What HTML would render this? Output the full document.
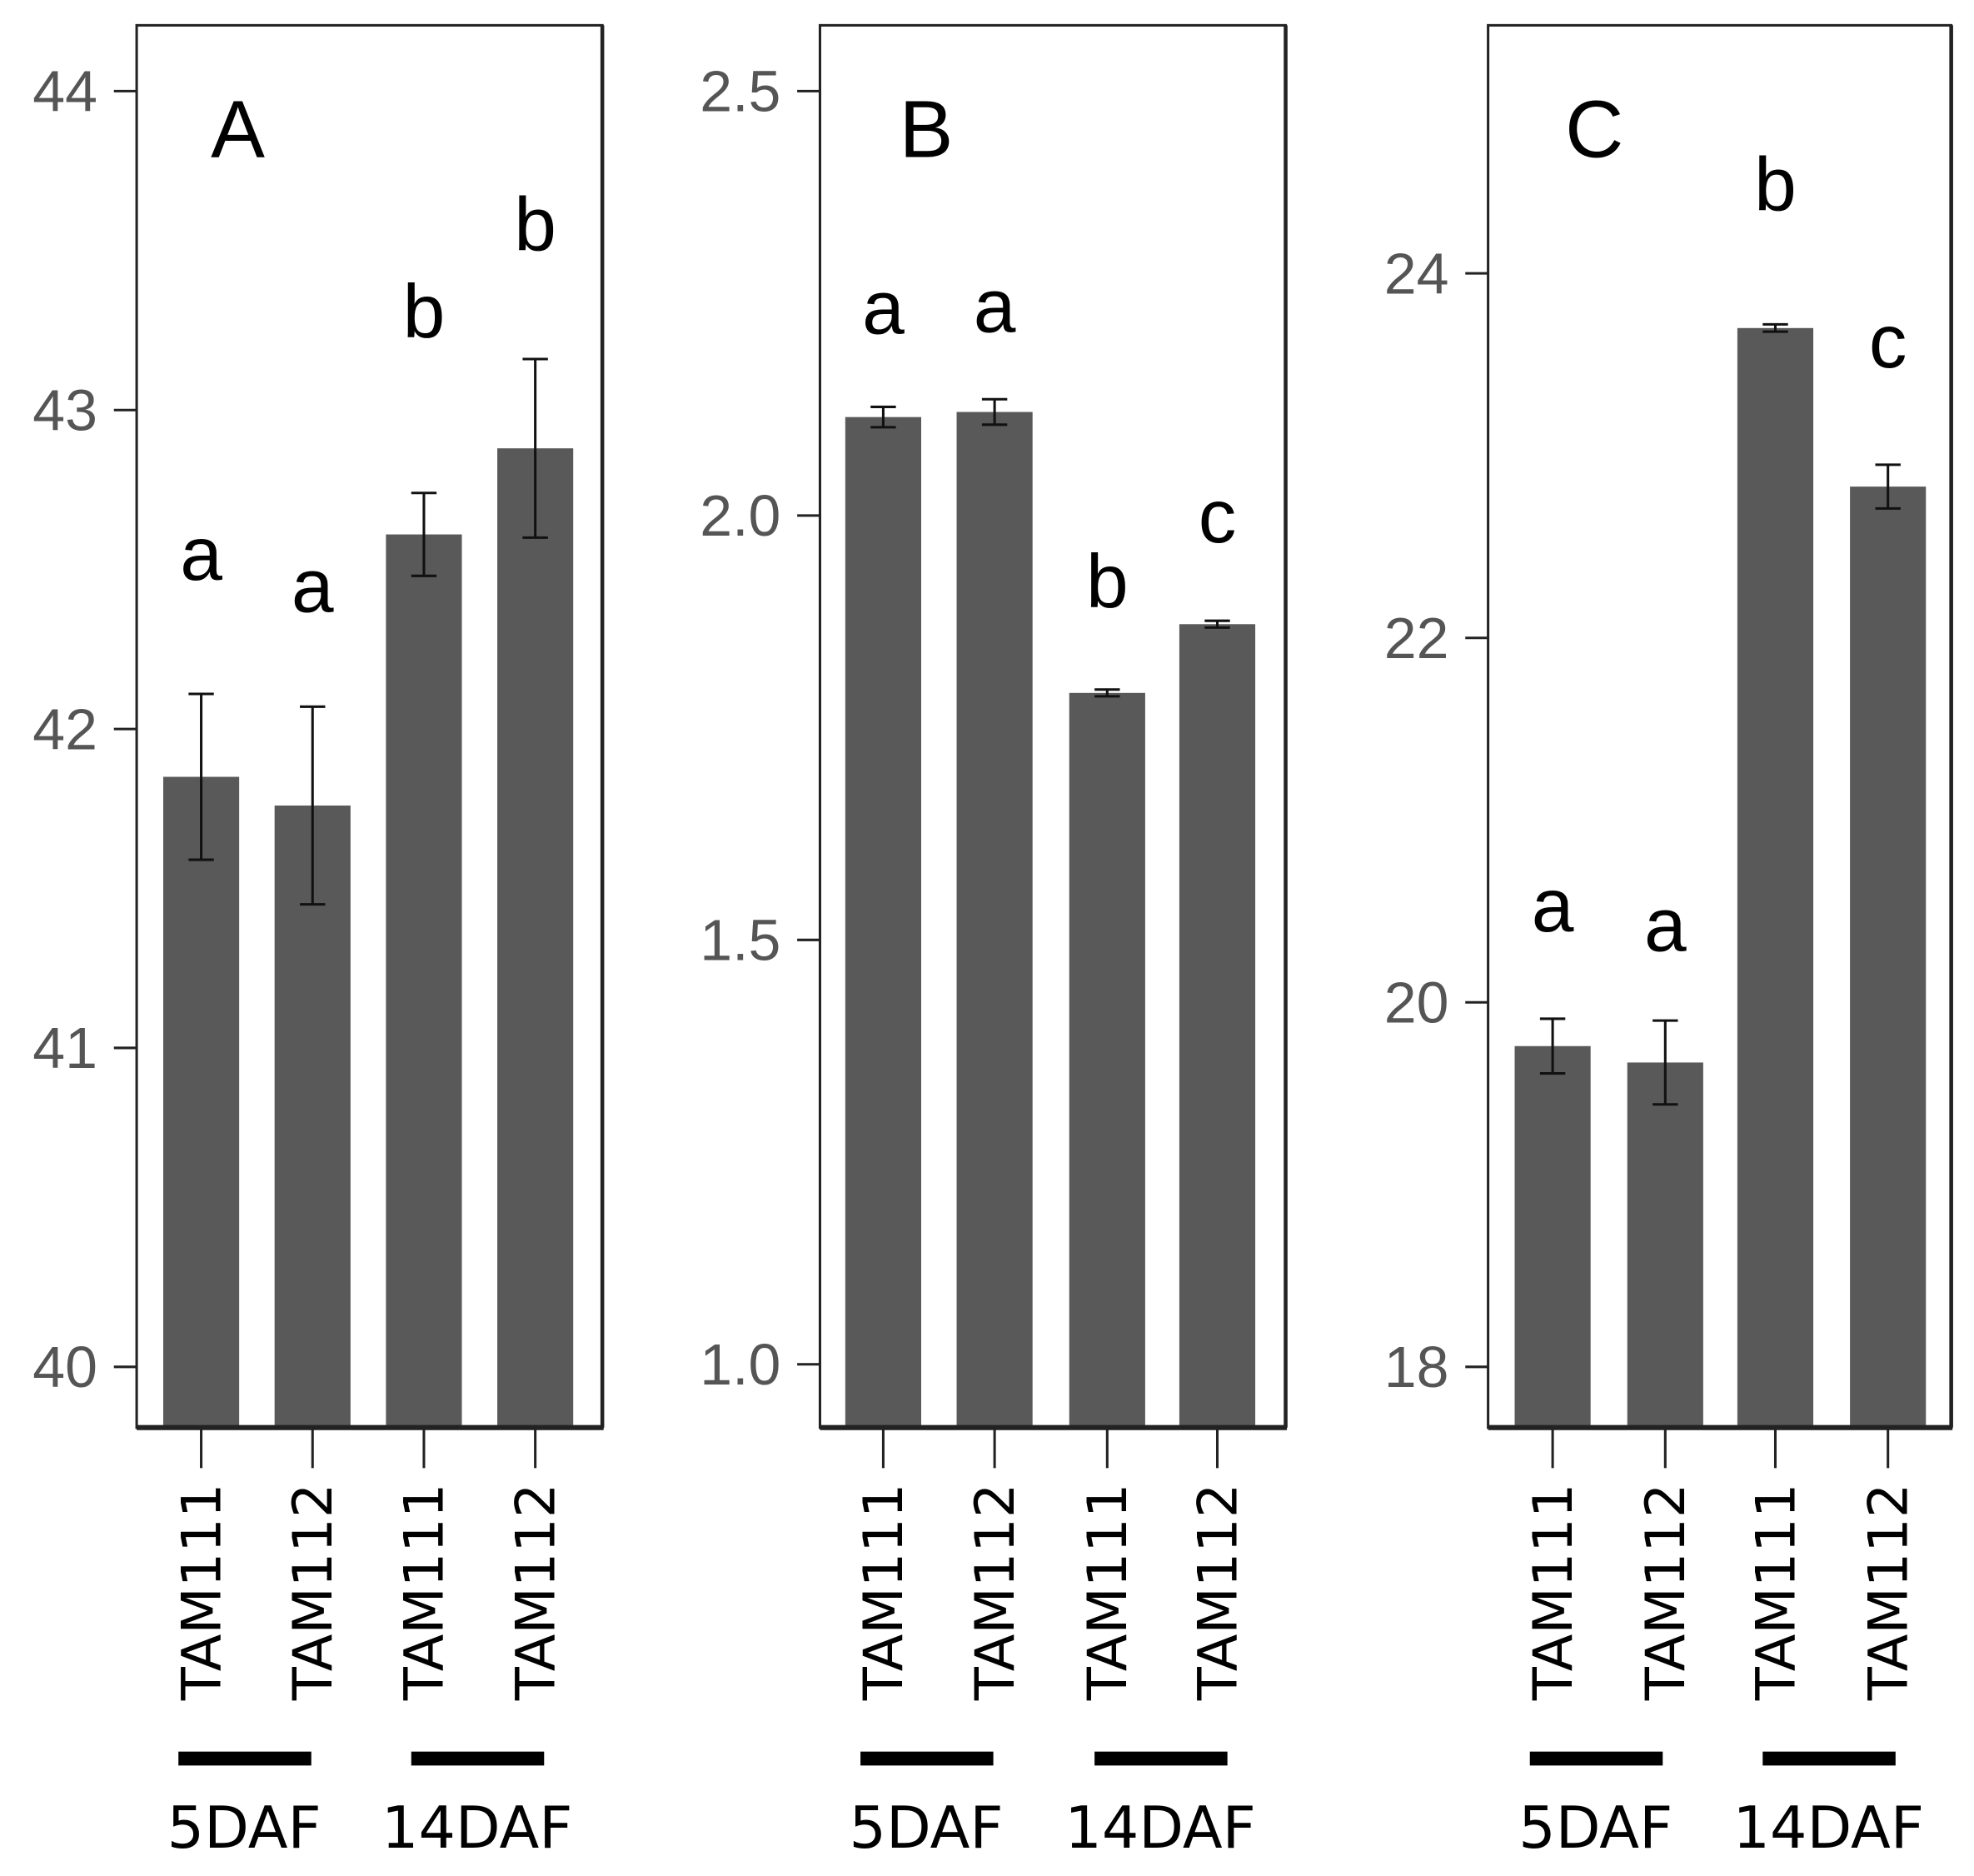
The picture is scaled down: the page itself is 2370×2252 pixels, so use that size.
<!DOCTYPE html>
<html><head><meta charset="utf-8"><style>
html,body{margin:0;padding:0;background:#fff}
svg{display:block}
text{font-family:"Liberation Sans","DejaVu Sans",sans-serif}
.dv{font-family:"DejaVu Sans","Liberation Sans",sans-serif}
</style></head><body>
<svg id="chart" width="2370" height="2252" viewBox="0 0 1560 1482.3" preserveAspectRatio="none" xmlns="http://www.w3.org/2000/svg"></svg>
<script>
const categories = ["TAM111","TAM112","TAM111","TAM112"];
const groupLabels = ["5DAF","14DAF"];
const panelTitles = ["A","B","C"];
const valuesA = [41.85, 41.76, 42.61, 42.88];
const errorsA = [0.26, 0.31, 0.13, 0.28];
const lettersA = ["a","a","b","b"];
const ticksA = [40, 41, 42, 43, 44];
const tickLabelsA = ["40","41","42","43","44"];
const valuesB = [2.116, 2.122, 1.791, 1.872];
const errorsB = [0.012, 0.015, 0.004, 0.004];
const lettersB = ["a","a","b","c"];
const ticksB = [1.0, 1.5, 2.0, 2.5];
const tickLabelsB = ["1.0","1.5","2.0","2.5"];
const valuesC = [19.76, 19.67, 23.70, 22.83];
const errorsC = [0.15, 0.23, 0.02, 0.12];
const lettersC = ["a","a","b","c"];
const ticksC = [18, 20, 22, 24];
const tickLabelsC = ["18","20","22","24"];

const NS = "http://www.w3.org/2000/svg";
const svg = document.getElementById("chart");
function mk(tag, attrs, parent){ const e=document.createElementNS(NS,tag); for(const k in attrs) e.setAttribute(k,attrs[k]); (parent||svg).appendChild(e); return e; }

const panels = [
  {x0:108,x1:476,v0:40,y0:1080,v1:44,y1:72,vals:valuesA,errs:errorsA,lets:lettersA,ticks:ticksA,tl:tickLabelsA,title:panelTitles[0],tx:188,cx:[159,247,335,423],letOff:[128,113,161,124]},
  {x0:648,x1:1016,v0:1.0,y0:1078,v1:2.5,y1:72,vals:valuesB,errs:errorsB,lets:lettersB,ticks:ticksB,tl:tickLabelsB,title:panelTitles[1],tx:732,cx:[698,786,875,962],letOff:[96,91,103,100]},
  {x0:1176,x1:1542,v0:18,y0:1080,v1:24,y1:216,vals:valuesC,errs:errorsC,lets:lettersC,ticks:ticksC,tl:tickLabelsC,title:panelTitles[2],tx:1260,cx:[1227,1316,1403,1492],letOff:[107,93,128,115]}
];

panels.forEach((p,pi)=>{
  const g = mk("g",{});
  
  
  const y = v => p.y0 + (v-p.v0)*(p.y1-p.y0)/(p.v1-p.v0);
  const top=20, bot=1128, bw=60;
  p.vals.forEach((v,i)=>{
    const b = mk("rect",{x:p.cx[i]-bw/2,y:y(v),width:bw,height:bot-y(v),fill:"#595959"},g);
    
    
    const e=p.errs[i], yt=y(v+e), yb=y(v-e);
    const eb = mk("path",{d:`M${p.cx[i]-10},${yt}H${p.cx[i]+10}M${p.cx[i]},${yt}V${yb}M${p.cx[i]-10},${yb}H${p.cx[i]+10}`,stroke:"#111","stroke-width":2,fill:"none"},g);
    
    
    const lt = mk("text",{x:p.cx[i],y:yt-p.letOff[i]+38,"font-size":60,"text-anchor":"middle",fill:"#000"},g);
    lt.textContent=p.lets[i];
    
    
    mk("line",{x1:p.cx[i],y1:bot,x2:p.cx[i],y2:bot+32,stroke:"#222","stroke-width":2},g);
    const xl = mk("text",{x:0,y:0,"class":"dv","font-size":43,"text-anchor":"end",fill:"#000",transform:`translate(${p.cx[i]+15},1172) rotate(-90)`},g);
    xl.textContent=categories[i];
    
    
  });
  const box = mk("rect",{x:p.x0,y:top,width:p.x1-p.x0,height:bot-top,fill:"none",stroke:"#222","stroke-width":2},g);
  
  
  mk("line",{x1:p.x0,y1:bot,x2:p.x1+1,y2:bot,stroke:"#222","stroke-width":4},g);
  mk("line",{x1:p.x1,y1:top,x2:p.x1,y2:bot,stroke:"#222","stroke-width":3},g);
  p.ticks.forEach((t,i)=>{
    mk("line",{x1:p.x0-18,y1:y(t),x2:p.x0,y2:y(t),stroke:"#222","stroke-width":2},g);
    const tl = mk("text",{x:p.x0-31,y:y(t)+16,"font-size":46,"text-anchor":"end",fill:"#555"},g);
    tl.textContent=p.tl[i];
    
    
  });
  const tt = mk("text",{x:p.tx,y:124,"font-size":64,"text-anchor":"middle",fill:"#000"},g);
  tt.textContent=p.title;
  
  
  [[0,1],[2,3]].forEach((pair,gi)=>{
    const c = p.cx[pair[0]] + 34 + 8*gi;
    const gb = mk("rect",{x:c-52,y:1384,width:105,height:11,fill:"#000"},g);
    
    
    const gl = mk("text",{x:c,y:1460,"class":"dv","font-size":46,"text-anchor":"middle",fill:"#000"},g);
    gl.textContent=groupLabels[gi];
    
    
  });
});
</script>
</body></html>
